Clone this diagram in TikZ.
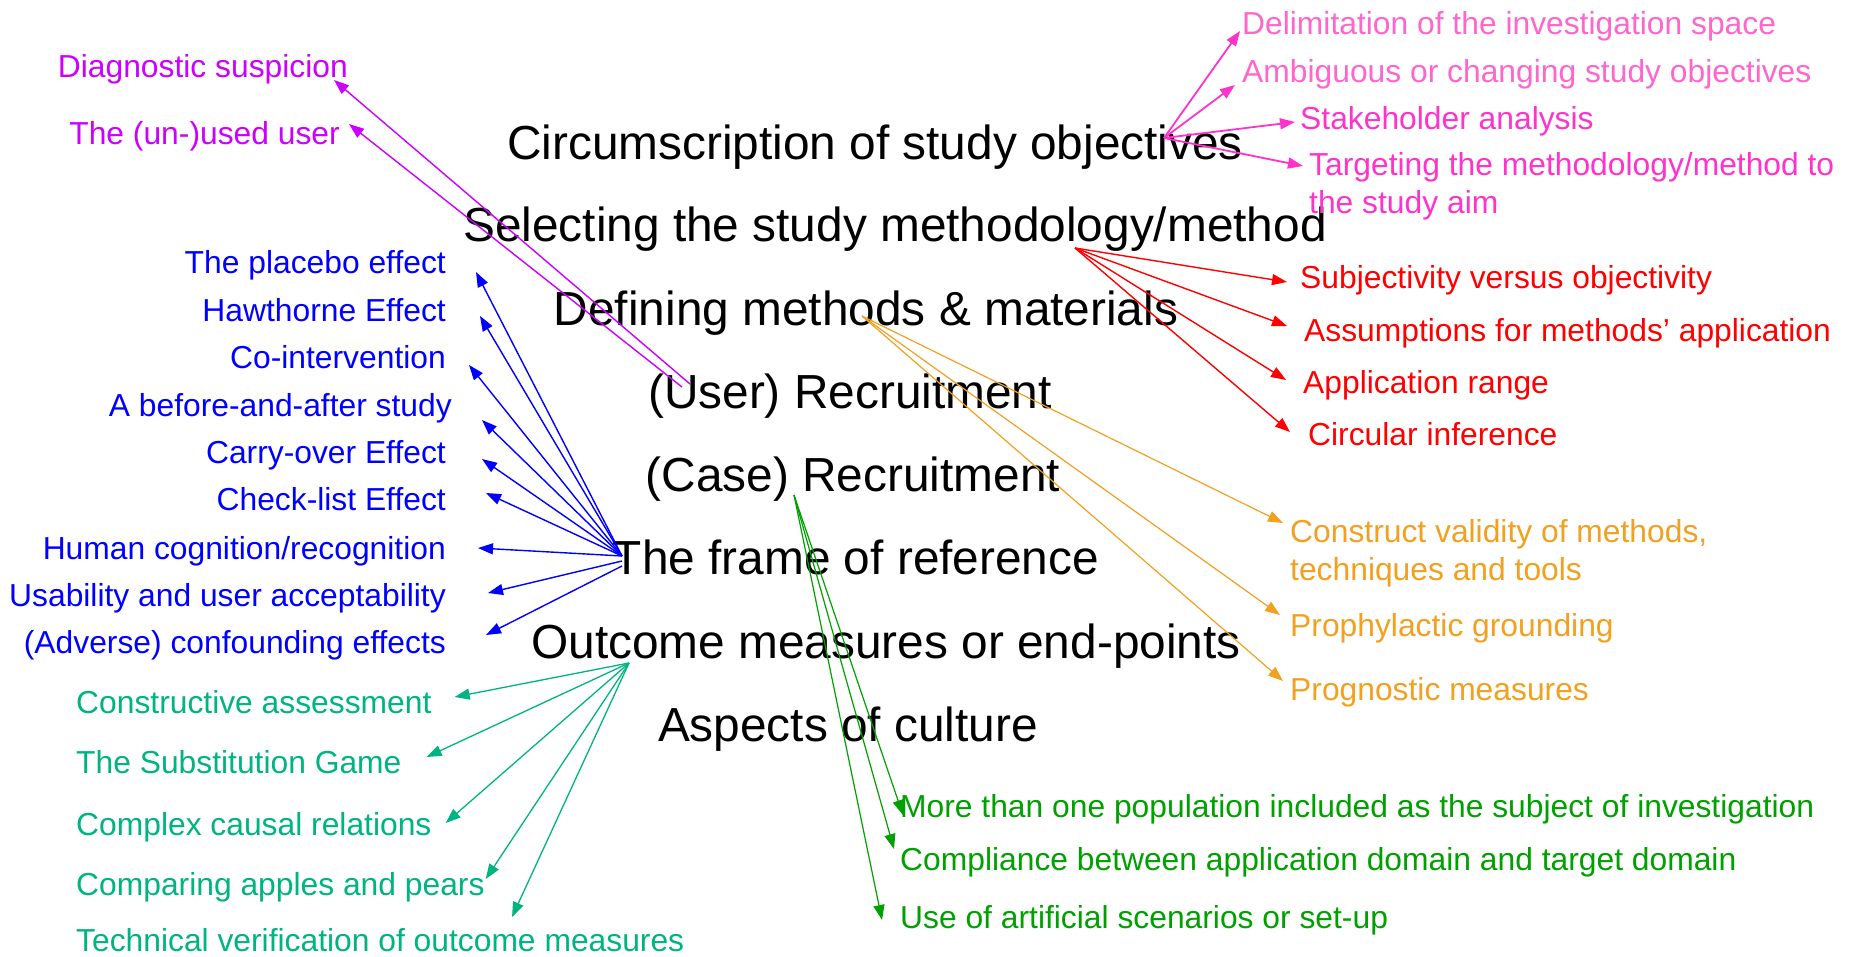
\documentclass[tikz,border=0pt]{standalone}
\usepackage{fontspec}
\setmainfont{Liberation Sans}
\usetikzlibrary{arrows.meta,positioning,calc}
\definecolor{lpink}{RGB}{255,102,204}
\definecolor{hpink}{RGB}{255,51,204}
\definecolor{violet}{RGB}{204,0,255}
\definecolor{orng}{RGB}{242,160,32}
\definecolor{teal}{RGB}{0,180,130}
\definecolor{grn}{RGB}{0,160,0}

\begin{document}
\begin{tikzpicture}[x=1pt,y=-1pt,>={Triangle[length=15pt,width=11pt]},
  topic/.style={inner sep=0pt,anchor=mid,font=\fontsize{47.8}{57}\selectfont},
  item/.style={inner sep=0pt,font=\fontsize{31.8}{38}\selectfont},
  arr/.style={->,line width=1.4pt}]
 \useasboundingbox (0,0) rectangle (1851,957);
 % the eight topics
 \node[topic] (circ) at (875,157) {Circumscription of study objectives};
 \node[topic] (select) at (895,239) {Selecting the study methodology/method};
 \node[topic] (define) at (866,323) {Defining methods \& materials};
 \node[topic] (user) at (850,406) {(User) Recruitment};
 \node[topic] (case) at (853,489) {(Case) Recruitment};
 \node[topic] (frame) at (856,572) {The frame of reference};
 \node[topic] (outcome) at (886,656) {Outcome measures or end-points};
 \node[topic] (culture) at (848,739) {Aspects of culture};

 % pitfalls, top right
 \node[item,anchor=mid west,lpink] (delim) at (1242,32) {Delimitation of the investigation space};
 \node[item,anchor=mid west,lpink] (ambig) at (1242,80) {Ambiguous or changing study objectives};
 \node[item,anchor=mid west,hpink] (stake) at (1300,127) {Stakeholder analysis};
 \node[item,anchor=north west,hpink,align=left] (target) at (1309,152) {Targeting the methodology/method to\\the study aim};
 \node[item,anchor=mid west,red] (subj) at (1300,286) {Subjectivity versus objectivity};
 \node[item,anchor=mid west,red] (assump) at (1304,339) {Assumptions for methods’ application};
 \node[item,anchor=mid west,red] (range) at (1303,391) {Application range};
 \node[item,anchor=mid west,red] (circinf) at (1308,443) {Circular inference};
 \node[item,anchor=north west,orng,align=left] (construct) at (1290,519) {Construct validity of methods,\\techniques and tools};
 \node[item,anchor=mid west,orng] (prophyl) at (1290,634) {Prophylactic grounding};
 \node[item,anchor=mid west,orng] (prognos) at (1290,698) {Prognostic measures};
 \node[item,anchor=mid west,grn] (morepop) at (900,815) {More than one population included as the subject of investigation};
 \node[item,anchor=mid west,grn] (complia) at (900,868) {Compliance between application domain and target domain};
 \node[item,anchor=mid west,grn] (artif) at (900,926) {Use of artificial scenarios or set-up};

 % pitfalls, left
 \node[item,anchor=mid east,violet] (diagn) at (348,75) {Diagnostic suspicion};
 \node[item,anchor=mid east,violet] (unused) at (340,142) {The (un-)used user};
 \node[item,anchor=mid east,blue] (placebo) at (446,271) {The placebo effect};
 \node[item,anchor=mid east,blue] (hawth) at (446,319) {Hawthorne Effect};
 \node[item,anchor=mid east,blue] (cointer) at (446,366) {Co-intervention};
 \node[item,anchor=mid east,blue] (beforeafter) at (452,414) {A before-and-after study};
 \node[item,anchor=mid east,blue] (carry) at (446,461) {Carry-over Effect};
 \node[item,anchor=mid east,blue] (checkl) at (446,508) {Check-list Effect};
 \node[item,anchor=mid east,blue] (human) at (446,557) {Human cognition/recognition};
 \node[item,anchor=mid east,blue] (usab) at (446,604) {Usability and user acceptability};
 \node[item,anchor=mid east,blue] (adverse) at (446,651) {(Adverse) confounding effects};
 \node[item,anchor=mid west,teal] (constr) at (76,711) {Constructive assessment};
 \node[item,anchor=mid west,teal] (substit) at (76,771) {The Substitution Game};
 \node[item,anchor=mid west,teal] (complex) at (76,833) {Complex causal relations};
 \node[item,anchor=mid west,teal] (apples) at (76,893) {Comparing apples and pears};
 \node[item,anchor=mid west,teal] (techver) at (76,949) {Technical verification of outcome measures};

 % where the arrows leave the topics
 \coordinate (objS) at (1164,138);
 \coordinate (diagS) at (690,384);
 \coordinate (usedS) at (682,387);
 \coordinate (methS) at (1075,248);
 \coordinate (defS) at (862,316);
 \coordinate (caseS) at (794,495);
 \coordinate (frameS) at (622,556);
 \coordinate (outS) at (629,663);

 \draw[arr,hpink,line width=1.8pt] (objS) -- ([shift={(-2,-1)}]delim.mid west);
 \draw[arr,hpink,line width=1.8pt] (objS) -- ([shift={(-7,5)}]ambig.mid west);
 \draw[arr,hpink,line width=1.8pt] (objS) -- ([shift={(-5,-5)}]stake.mid west);
 \draw[arr,hpink,line width=1.8pt] (objS) -- ([shift={(-6,14)}]target.north west);

 \draw[arr,red] (methS) -- ([shift={(-13,-4)}]subj.mid west);
 \draw[arr,red] (methS) -- ([shift={(-17,-13)}]assump.mid west);
 \draw[arr,red] (methS) -- ([shift={(-17,-11)}]range.mid west);
 \draw[arr,red] (methS) -- ([shift={(-18,-11)}]circinf.mid west);

 \draw[arr,orng,line width=1.2pt] (defS) -- ([shift={(-7,4)}]construct.north west);
 \draw[arr,orng,line width=1.2pt] (defS) -- ([shift={(-10,-19)}]prophyl.mid west);
 \draw[arr,orng,line width=1.2pt] (defS) -- ([shift={(-7,-17)}]prognos.mid west);

 \draw[arr,grn,line width=1.2pt] (caseS) -- ([shift={(3,0)}]morepop.mid west);
 \draw[arr,grn,line width=1.2pt] (caseS) -- ([shift={(-6,-19)}]complia.mid west);
 \draw[arr,grn,line width=1.2pt] (caseS) -- ([shift={(-18,-6)}]artif.mid west);

 \draw[arr,violet] (diagS) -- ([shift={(-14,5)}]diagn.mid east);
 \draw[arr,violet] (usedS) -- ([shift={(9,-18)}]unused.mid east);

 \draw[arr,blue] (frameS) -- ([shift={(30,1)}]placebo.mid east);
 \draw[arr,blue] (frameS) -- ([shift={(34,-3)}]hawth.mid east);
 \draw[arr,blue] (frameS) -- ([shift={(23,-1)}]cointer.mid east);
 \draw[arr,blue] (frameS) -- ([shift={(30,6)}]beforeafter.mid east);
 \draw[arr,blue] (frameS) -- ([shift={(36,-2)}]carry.mid east);
 \draw[arr,blue] (frameS) -- ([shift={(40,-15)}]checkl.mid east);
 \draw[arr,blue] (frameS) -- ([shift={(32,-9)}]human.mid east);
 \draw[arr,blue] ([shift={(0,5)}]frameS) -- ([shift={(42,-11)}]usab.mid east);
 \draw[arr,blue] ([shift={(0,10)}]frameS) -- ([shift={(40,-16)}]adverse.mid east);

 \draw[arr,teal,line width=1.3pt] (outS) -- ([shift={(23,-14)}]constr.mid east);
 \draw[arr,teal,line width=1.3pt] (outS) -- ([shift={(25,-14)}]substit.mid east);
 \draw[arr,teal,line width=1.3pt] (outS) -- ([shift={(14,-10)}]complex.mid east);
 \draw[arr,teal,line width=1.3pt] (outS) -- ([shift={(1,-14)}]apples.mid east);
 \draw[arr,teal,line width=1.3pt] (outS) -- ([shift={(436,-32)}]techver.mid west);
\end{tikzpicture}
\end{document}
